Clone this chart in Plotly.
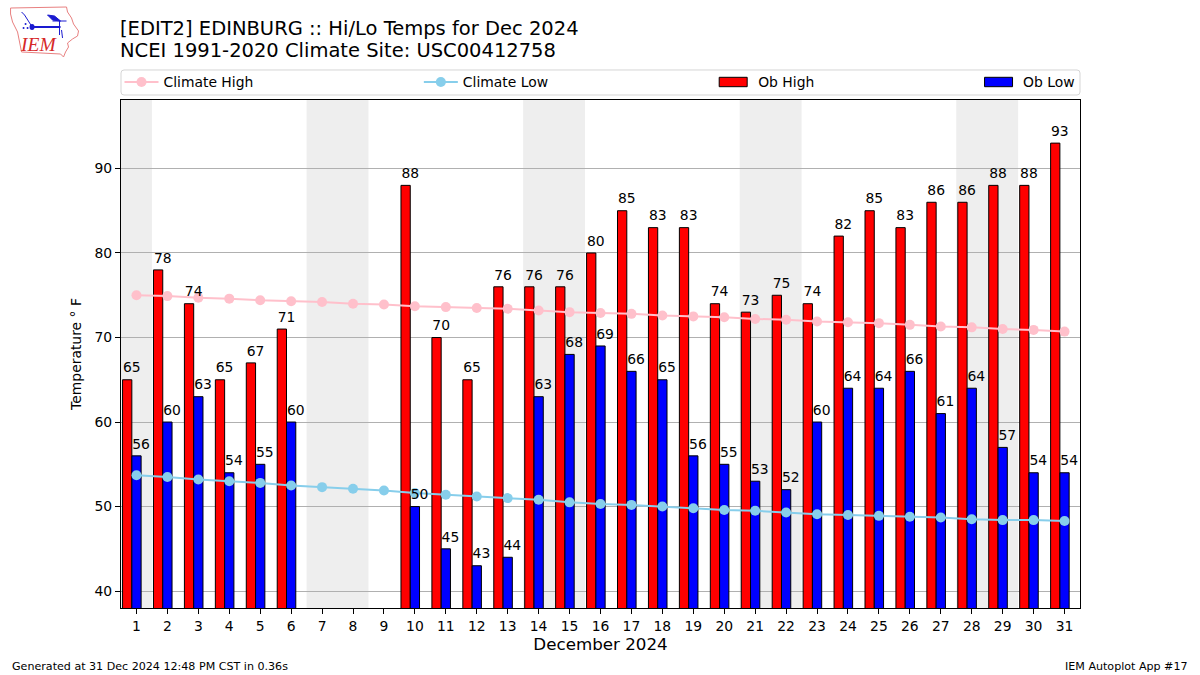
import plotly.graph_objects as go

days = list(range(1, 32))
ob_high = [65,78,74,65,67,71,None,None,None,88,70,65,76,76,76,80,85,83,83,74,73,75,74,82,85,83,86,86,88,88,93]
ob_low = [56,60,63,54,55,60,None,None,None,50,45,43,44,63,68,69,66,65,56,55,53,52,60,64,64,66,61,64,57,54,54]
clim_high = [75.0,74.9,74.7,74.6,74.4,74.3,74.2,74.0,73.9,73.7,73.6,73.5,73.4,73.2,73.0,72.9,72.8,72.6,72.5,72.4,72.2,72.1,71.9,71.8,71.7,71.5,71.3,71.2,71.0,70.9,70.7]
clim_low = [53.7,53.5,53.2,53.0,52.8,52.5,52.3,52.1,51.9,51.6,51.4,51.2,51.0,50.8,50.5,50.3,50.2,50.0,49.8,49.6,49.5,49.3,49.1,49.0,48.9,48.8,48.7,48.5,48.4,48.4,48.3]
weekend_spans = [(0.5,1.5),(6.5,8.5),(13.5,15.5),(20.5,22.5),(27.5,29.5)]
y_ticks = [40,50,60,70,80,90]

W, H = 1200, 675
L, R, T, B = 120.5, 1080, 100, 608
FONT = "DejaVu Sans"
RED, BLUE = "#ff0000", "#0000ff"
px = lambda x: (x - L) / (R - L)
py = lambda y: (B - y) / (B - T)

fig = go.Figure()
fig.add_bar(x=days, y=ob_high, width=0.3, offset=-0.45, marker=dict(color=RED, line=dict(color="black", width=1)),
            name="Ob High", showlegend=False)
fig.add_bar(x=days, y=ob_low, width=0.3, offset=-0.15, marker=dict(color=BLUE, line=dict(color="black", width=1)),
            name="Ob Low", showlegend=False)
fig.add_scatter(x=days, y=clim_high, mode="lines+markers", name="Climate High", legend="legend",
                line=dict(color="pink", width=2), marker=dict(color="pink", size=10))
fig.add_scatter(x=days, y=clim_low, mode="lines+markers", name="Climate Low", legend="legend2",
                line=dict(color="skyblue", width=2), marker=dict(color="skyblue", size=10))
# legend text entries for the bars; their wide swatches are drawn as shapes below
fig.add_scatter(x=[None], y=[None], mode="lines", name="Ob High", legend="legend3", line=dict(color="rgba(0,0,0,0)", width=1), hoverinfo="skip")
fig.add_scatter(x=[None], y=[None], mode="lines", name="Ob Low", legend="legend4", line=dict(color="rgba(0,0,0,0)", width=1), hoverinfo="skip")
LABEL_LIFT = 0.45
for vals, off in ((ob_high, -0.15), (ob_low, 0.15)):
    fig.add_scatter(x=[d + off for d in days], y=[None if v is None else v + LABEL_LIFT for v in vals], mode="text",
                    text=[("" if v is None else str(v)) for v in vals],
                    textposition="top center", textfont=dict(family=FONT, size=13.9, color="black"),
                    showlegend=False, hoverinfo="skip", cliponaxis=False)

shapes = [dict(type="rect", xref="x", yref="paper", x0=a, x1=b, y0=0, y1=1, fillcolor="#eeeeee", line_width=0, layer="below")
          for a, b in weekend_spans]

def path(points, close=False):
    s = "M" + " L".join(f"{px(x):.5f},{py(y):.5f}" for x, y in points)
    return s + (" Z" if close else "")

def rounded(x0, y0, x1, y1, r):
    P = lambda x, y: f"{px(x):.5f},{py(y):.5f}"
    return (f"M{P(x0+r,y0)} L{P(x1-r,y0)} Q{P(x1,y0)} {P(x1,y0+r)} L{P(x1,y1-r)} Q{P(x1,y1)} {P(x1-r,y1)} "
            f"L{P(x0+r,y1)} Q{P(x0,y1)} {P(x0,y1-r)} L{P(x0,y0+r)} Q{P(x0,y0)} {P(x0+r,y0)} Z")

shapes.append(dict(type="path", xref="paper", yref="paper", path=rounded(120.5, 70, 1080, 95, 3),
                   line=dict(color="#d5d5d5", width=1), fillcolor="white", layer="below"))
for x0, color in ((719, RED), (984.5, BLUE)):
    shapes.append(dict(type="rect", xref="paper", yref="paper", x0=px(x0), x1=px(x0 + 28), y0=py(86.7), y1=py(77.3),
                       fillcolor=color, line=dict(color="black", width=1)))

LOGO_RED, LOGO_BLUE = "#e88080", "#1a1ad0"
iowa = [(10,8),(66,7),(67,12),(71,18),(73,24),(78,31),(77,36),(72,39),(67,43),(68,47),(65,52),(63,57),(60,54),(21,52),(19,42),(17,32),(12,22),(10,14)]
shapes.append(dict(type="path", xref="paper", yref="paper", path=path(iowa, True), line=dict(color=LOGO_RED, width=1)))
for pts, wid in (([(30,27),(60,27)],2), ([(52,21),(66,21)],1), ([(59,21),(59,35)],1), ([(61,30),(62,38)],1), ([(31,26),(24,15)],1), ([(24,15),(21,12)],1)):
    shapes.append(dict(type="path", xref="paper", yref="paper", path=path(pts), line=dict(color=LOGO_BLUE, width=wid)))
shapes.append(dict(type="path", xref="paper", yref="paper", path=path([(47,15),(54,16),(60,21),(52,20)], True), line=dict(color=LOGO_BLUE, width=1), fillcolor=LOGO_BLUE))
shapes.append(dict(type="circle", xref="paper", yref="paper", x0=px(29), x1=px(34), y0=py(30), y1=py(24), fillcolor=LOGO_BLUE, line_width=0))
for cx, cy in ((25,24),(23,28),(27,28)):
    shapes.append(dict(type="circle", xref="paper", yref="paper", x0=px(cx-1), x1=px(cx+1), y0=py(cy+1), y1=py(cy-1), fillcolor=LOGO_BLUE, line_width=0))

def note(text, x, y, xanchor="left", size=11.1, family=FONT, color="black"):
    return dict(text=text, xref="paper", yref="paper", x=px(x), y=py(y), xanchor=xanchor, yanchor="middle",
                showarrow=False, font=dict(family=family, size=size, color=color))

ann = [
    note("[EDIT2] EDINBURG :: Hi/Lo Temps for Dec 2024", 117.5, 28.5, size=19.5),
    note("NCEI 1991-2020 Climate Site: USC00412758", 117.5, 50.5, size=19.5),
    note("<i>IEM</i>", 37.5, 45, "center", 19.5, "Liberation Serif", "#d62828"),
    note("Generated at 31 Dec 2024 12:48 PM CST in 0.36s", 9, 666),
    note("IEM Autoplot App #17", 1190, 666, "right"),
]

def leg(x):
    return dict(x=px(x), y=py(82.5), xanchor="left", yanchor="middle", orientation="h", bgcolor="rgba(0,0,0,0)",
                borderwidth=0, font=dict(family=FONT, size=13.9, color="black"), itemwidth=34)

fig.update_layout(
    width=W, height=H, margin=dict(l=L, r=W - R, t=T, b=H - B, pad=0), autosize=False,
    paper_bgcolor="white", plot_bgcolor="rgba(0,0,0,0)", barmode="overlay", showlegend=True,
    font=dict(family=FONT, size=13.9, color="black"),
    legend=leg(119), legend2=leg(418.5), legend3=leg(714), legend4=leg(979),
    shapes=shapes, annotations=ann,
    xaxis=dict(range=[0.5, 31.5], tickmode="array", tickvals=days, ticktext=[str(d) for d in days], ticks="outside", ticklen=5,
               tickcolor="black", showgrid=False, showline=True, linecolor="black", linewidth=1, mirror=True, zeroline=False,
               tickfont=dict(family=FONT, size=13.9), title=dict(text="December 2024", font=dict(family=FONT, size=16.7), standoff=5)),
    yaxis=dict(range=[38, 98.1], tickmode="array", tickvals=y_ticks, ticks="outside", ticklen=5, tickcolor="black",
               showgrid=True, gridcolor="#b0b0b0", gridwidth=1, showline=True, linecolor="black", linewidth=1, mirror=True, zeroline=False,
               tickfont=dict(family=FONT, size=13.9), title=dict(text="Temperature ° F", font=dict(family=FONT, size=13.9), standoff=9)),
)
fig.write_html("out.html", post_script="document.body.style.margin='0';", config={"displayModeBar": False})
